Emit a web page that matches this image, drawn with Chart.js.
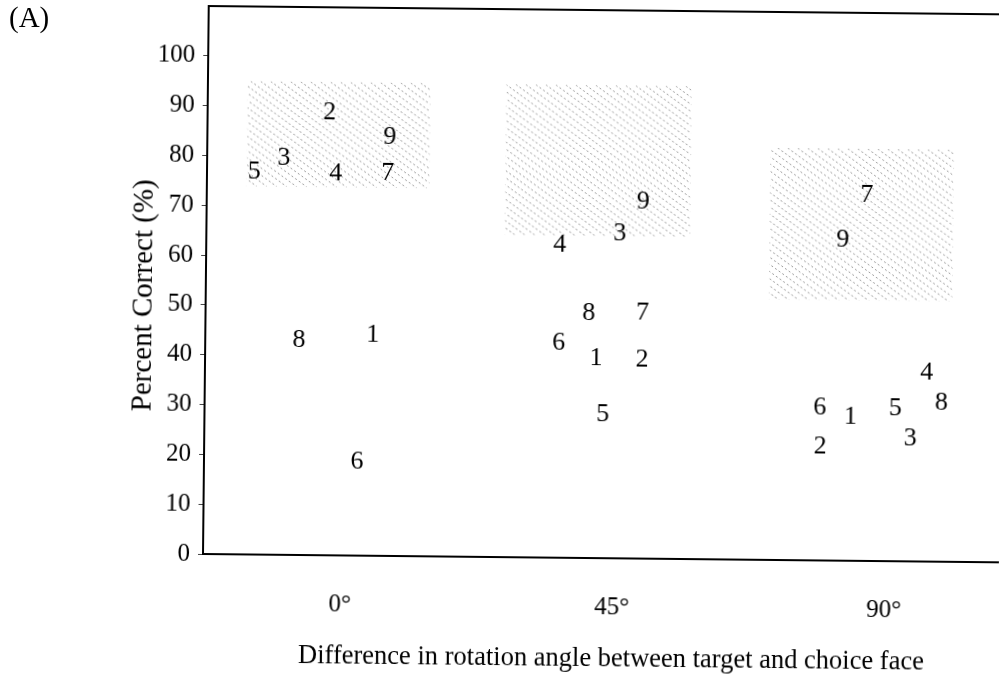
<!DOCTYPE html>
<html>
<head>
<meta charset="utf-8">
<script src="https://cdn.jsdelivr.net/npm/chart.js@4.4.1/dist/chart.umd.min.js"></script>
<style>
  html, body { margin: 0; padding: 0; background: #fff; overflow: hidden; }
  #wrap { position: relative; width: 999px; height: 679px; }
  #panel { position: absolute; left: 9px; top: 1px; font: 29px "Liberation Serif", serif; color: #000; }
  /* the scanned figure sits slightly tilted */
  #chart { transform: rotate(0.6deg); transform-origin: 203px 554px; }
</style>
</head>
<body>
<div id="wrap">
  <canvas id="chart" width="999" height="679"></canvas>
  <div id="panel">(A)</div>
</div>
<script>
// subject numbers shown as the plot marks
const subjects = ['1', '2', '3', '4', '5', '6', '7', '8', '9'];

// rotation difference (deg, with the small sideways spread used in the figure) and percent correct, subjects 1..9
const angle0X  = [5.0, -2.5, -10.0, -1.4, -14.9, 2.6, 7.2, -7.2, 7.5];
const angle0Y  = [44.8, 89.3, 80.1, 77.1, 77.2, 19.2, 77.2, 43.6, 84.4];
const angle45X = [42.0, 49.6, 45.7, 35.8, 43.2, 35.8, 49.6, 40.7, 49.5];
const angle45Y = [40.5, 40.3, 65.7, 63.1, 29.2, 43.5, 49.7, 49.6, 72.0];
const angle90X = [84.2, 79.2, 94.1, 96.7, 91.6, 79.1, 86.5, 99.2, 82.6];
const angle90Y = [29.3, 23.2, 25.0, 38.4, 31.1, 31.1, 73.8, 32.2, 64.9];

// shaded ranges, one per angle
const boxFrom = [-16.1, 26.7, 70.5];
const boxTo   = [14.1, 57.3, 100.8];
const boxLow  = [73.9, 64.7, 52.2];
const boxHigh = [95.0, 94.9, 82.7];

const xTicks = [0, 45, 90];
const xTickLabels = ['0°', '45°', '90°'];
const yTicks = [0, 10, 20, 30, 40, 50, 60, 70, 80, 90, 100];

const xTitle = 'Difference in rotation angle between target and choice face';
const yTitle = 'Percent Correct (%)';

const serif = '"Liberation Serif", "Times New Roman", serif';

const toPoints = (xs, ys) => xs.map((x, i) => ({ x: x, y: ys[i] }));

const figurePlugin = {
  id: 'figure',
  beforeDatasetsDraw(chart) {
    const { ctx, scales: { x, y } } = chart;
    boxFrom.forEach((from, i) => {
      const left = x.getPixelForValue(from);
      const right = x.getPixelForValue(boxTo[i]);
      const top = y.getPixelForValue(boxHigh[i]);
      const bottom = y.getPixelForValue(boxLow[i]);
      const h = bottom - top;
      ctx.save();
      ctx.beginPath();
      ctx.rect(left, top, right - left, h);
      ctx.clip();
      ctx.strokeStyle = 'rgba(110,110,110,0.7)';
      ctx.lineWidth = 1;
      ctx.setLineDash([2, 2.5]);
      ctx.beginPath();
      for (let s = left - h * 1.4; s < right; s += 10) {
        ctx.moveTo(s, top);
        ctx.lineTo(s + h * 1.4, bottom);
      }
      ctx.stroke();
      ctx.restore();
    });
  },
  afterDatasetsDraw(chart) {
    const { ctx, chartArea } = chart;
    ctx.save();
    ctx.fillStyle = '#000';
    ctx.font = '26px ' + serif;
    ctx.textAlign = 'center';
    ctx.textBaseline = 'middle';
    chart.data.datasets.forEach((ds, d) => {
      chart.getDatasetMeta(d).data.forEach((pt, i) => {
        ctx.fillText(subjects[i], pt.x, pt.y + 2);
      });
    });
    // top frame line
    ctx.strokeStyle = '#000';
    ctx.lineWidth = 2;
    ctx.beginPath();
    ctx.moveTo(chartArea.left, chartArea.top);
    ctx.lineTo(chartArea.right, chartArea.top);
    ctx.stroke();
    // x axis title, a little right of the visible plot centre as in the figure
    ctx.font = '26.5px ' + serif;
    ctx.fillText(xTitle, 612, 655);
    // y axis title
    ctx.translate(141, (chartArea.top + chartArea.bottom) / 2 + 16);
    ctx.rotate(-Math.PI / 2);
    ctx.font = '29px ' + serif;
    ctx.fillText(yTitle, 0, 0);
    ctx.restore();
  }
};

new Chart(document.getElementById('chart'), {
  type: 'scatter',
  data: {
    datasets: [
      { label: '0°', data: toPoints(angle0X, angle0Y) },
      { label: '45°', data: toPoints(angle45X, angle45Y) },
      { label: '90°', data: toPoints(angle90X, angle90Y) }
    ]
  },
  options: {
    responsive: false,
    animation: false,
    events: [],
    elements: { point: { radius: 0, hoverRadius: 0 } },
    layout: { padding: { left: 0, top: 6, right: 0, bottom: 8 } },
    plugins: { legend: { display: false }, tooltip: { enabled: false } },
    scales: {
      x: {
        type: 'linear',
        min: -22.7,
        max: 109,
        afterBuildTicks: s => { s.ticks = xTicks.map(v => ({ value: v })); },
        afterFit: s => { s.height = 117; s.paddingLeft = 0; s.paddingRight = 0; },
        grid: { display: false, drawTicks: false },
        border: { display: true, color: '#000', width: 2 },
        ticks: {
          color: '#000',
          padding: 34,
          maxRotation: 0,
          font: { family: serif, size: 25 },
          callback: (v, i) => xTickLabels[i]
        }
      },
      y: {
        min: 0,
        max: 110,
        afterBuildTicks: s => { s.ticks = yTicks.map(v => ({ value: v })); },
        afterFit: s => { s.width = 203; s.paddingTop = 0; s.paddingBottom = 0; },
        grid: { display: true, drawOnChartArea: false, drawTicks: true, tickLength: 5, color: '#444' },
        border: { display: true, color: '#000', width: 2 },
        ticks: {
          color: '#000',
          padding: 8,
          font: { family: serif, size: 25 }
        }
      }
    }
  },
  plugins: [figurePlugin]
});
</script>
</body>
</html>
